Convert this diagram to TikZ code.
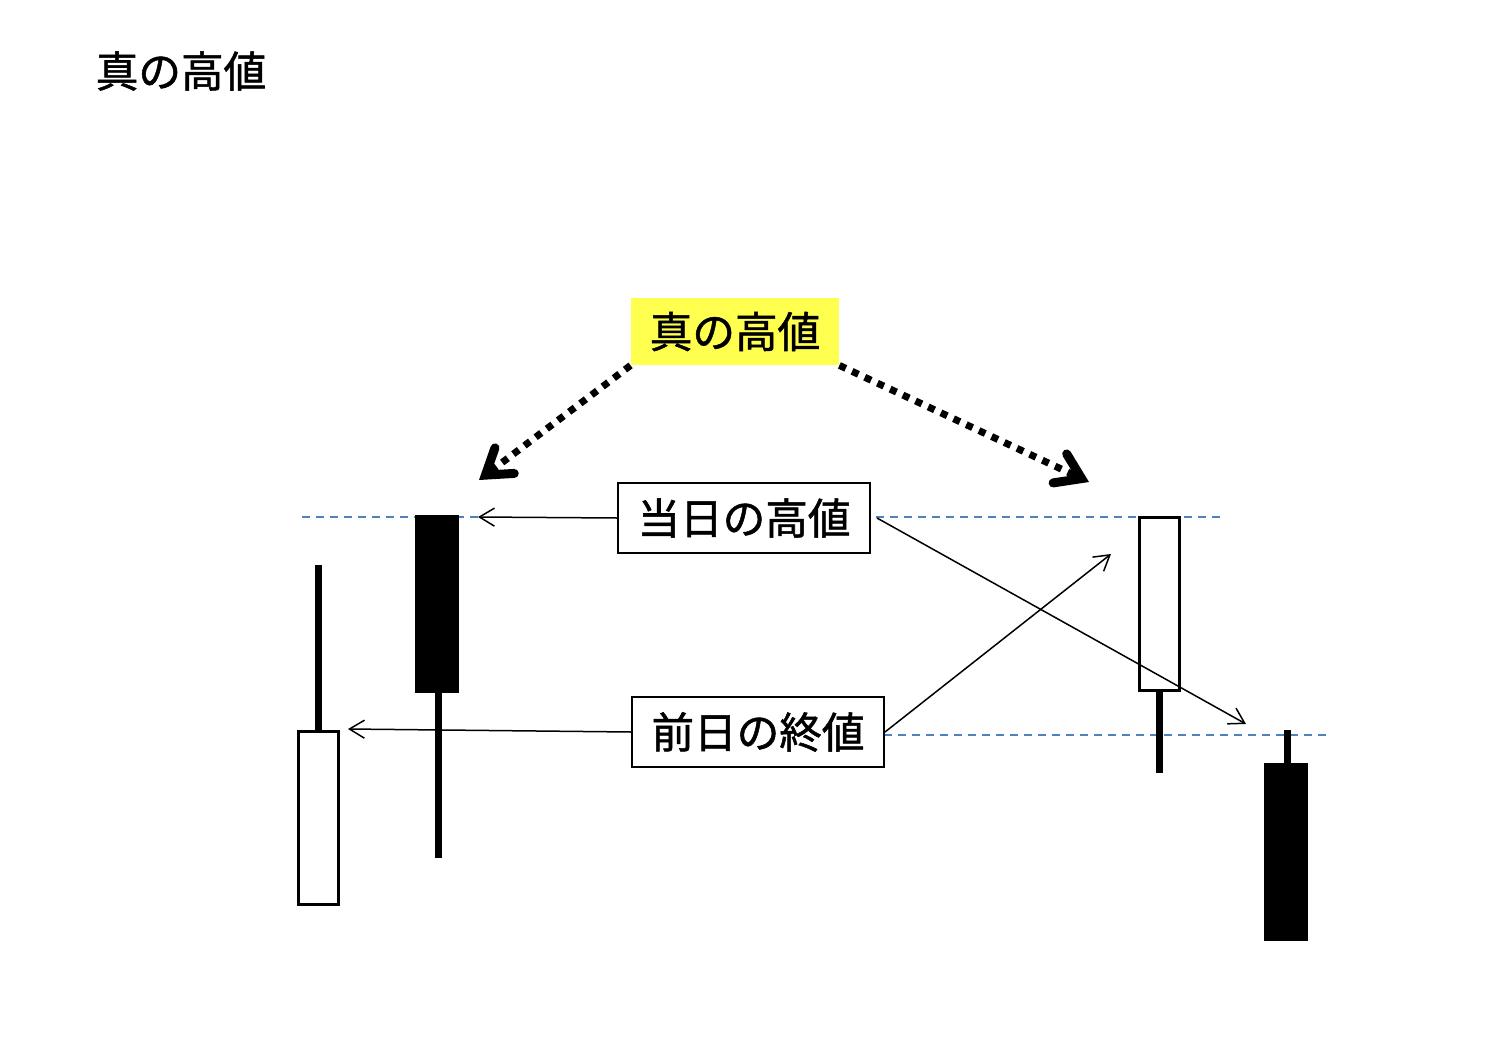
\documentclass[tikz,border=0pt]{standalone}
\usepackage{fontspec}
\newfontfamily\jp[FakeBold=1.2]{Noto Sans CJK JP}
\usetikzlibrary{arrows.meta}
\definecolor{dashblue}{RGB}{79,129,189}
\definecolor{hiyellow}{RGB}{255,255,80}
\begin{document}
\begin{tikzpicture}[x=0.5pt,y=-0.5pt,
  lbl/.style={font=\jp\fontsize{21.3}{22}\selectfont, inner sep=0pt, anchor=center},
  labelbox/.style={lbl, draw, line width=1pt, minimum width=126pt, minimum height=35pt},
  yellowbox/.style={lbl, fill=hiyellow, minimum width=104pt, minimum height=33.5pt},
  whitebody/.style={draw, line width=1.5pt, fill=white, minimum width=20pt, minimum height=86.5pt, inner sep=0pt},
  blackbody/.style={draw, line width=1pt, fill=black, minimum width=21pt, minimum height=88pt, inner sep=0pt},
  wick/.style={line width=3.5pt},
  guide/.style={dashblue, line width=0.8pt, dash pattern=on 4pt off 3pt},
  thinarrow/.style={line width=0.75pt, -{Straight Barb[length=7.5pt,width=9pt,line width=0.75pt]}},
  dotarrow/.style={line width=3.5pt, dash pattern=on 3.5pt off 3.5pt, -{Straight Barb[length=12pt,width=16pt,line width=4.5pt,line cap=round]}}
]
\useasboundingbox (0,0) rectangle (1496,1050);

% title
\node[lbl] (title) at (181,71) {真の高値};

% guide lines
\coordinate (g1a) at (302,517);
\coordinate (g1b) at (480,517);
\coordinate (g1c) at (876,517);
\coordinate (g1d) at (1220,517);
\coordinate (g2a) at (884,735);
\coordinate (g2b) at (1326,735);
\draw[guide] (g1a) -- (g1b);
\draw[guide] (g1c) -- (g1d);
\draw[guide] (g2a) -- (g2b);

% candle 1 (white, prior)
\node[whitebody] (c1) at (318.5,818) {};
\coordinate (c1top) at (318.5,565);
\draw[wick] (c1top) -- (c1.north);

% candle 2 (black)
\node[blackbody] (c2) at (436.5,603.5) {};
\coordinate (c2bot) at (438.5,858);
\draw[wick] (c2.south -| c2bot) -- (c2bot);

% candle 3 (white)
\node[whitebody] (c3) at (1159,603.5) {};
\coordinate (c3bot) at (1159,773);
\draw[wick] (c3.south) -- (c3bot);

% candle 4 (black)
\node[blackbody] (c4) at (1286,851.5) {};
\coordinate (c4top) at (1287,730);
\draw[wick] (c4top) -- (c4.north -| c4top);

% label boxes
\node[yellowbox] (shin) at (735,331.5) {真の高値};
\node[labelbox, fill=white] (toujitsu) at (744,518) {当日の高値};
\node[labelbox, fill=white] (zenjitsu) at (758,732) {前日の終値};

% arrows
\coordinate (a1) at (478,517);
\coordinate (a2) at (348,729);
\coordinate (a3) at (1246,724);
\coordinate (a4) at (1111,554);
\draw[thinarrow] (toujitsu.west) -- (a1);
\draw[thinarrow] (zenjitsu.west) -- (a2);
\draw[thinarrow] ([xshift=3pt]toujitsu.east) -- (a3);
\draw[thinarrow] (zenjitsu.east) -- (a4);

% dotted arrows
\coordinate (d1) at (479,480);
\coordinate (d2) at (1089,482);
\draw[dotarrow] (shin.south west) -- (d1);
\draw[dotarrow] (shin.south east) -- (d2);
\end{tikzpicture}
\end{document}
